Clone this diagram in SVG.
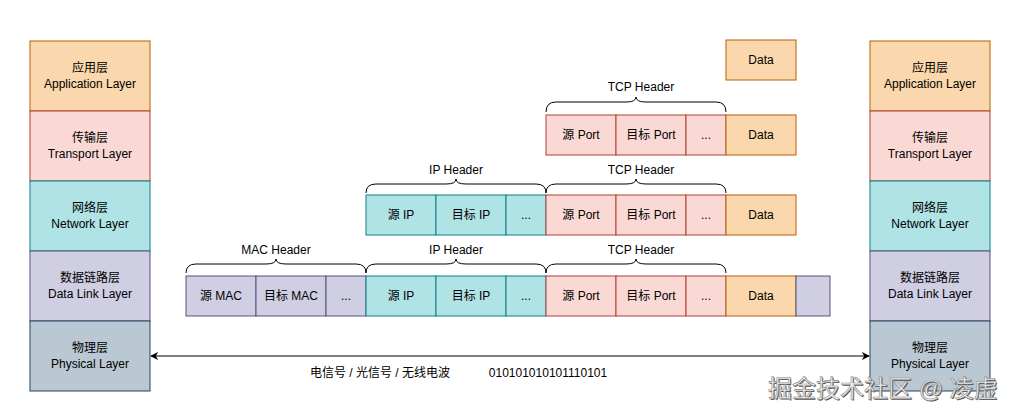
<svg xmlns="http://www.w3.org/2000/svg" width="1020" height="420" viewBox="0 0 1020 420">
<defs>
<style>
text{font-family:"Liberation Sans","Noto Sans CJK SC",sans-serif;font-size:12px;fill:#000;text-anchor:middle;dominant-baseline:central}
.app{fill:#fad7ac;stroke:#b46504}
.tr{fill:#fad9d5;stroke:#ae4132}
.net{fill:#b0e3e6;stroke:#0e8088}
.dl{fill:#d0cee2;stroke:#56517e}
.ph{fill:#bac8d3;stroke:#23445d}
rect{stroke-width:1}
.brace{fill:none;stroke:#000;stroke-width:1}
.wm{font-size:24px;text-anchor:start}
</style>
<marker id="ah" viewBox="0 0 10 10" refX="9" refY="5" markerWidth="8" markerHeight="8" orient="auto-start-reverse" markerUnits="userSpaceOnUse">
<path d="M0,0 L10,5 L0,10 L3,5 Z" fill="#000"/>
</marker>
</defs>
<rect width="1020" height="420" fill="#fff"/>

<g id="left-stack">
<g id="l-app"><rect class="app" x="30" y="41" width="120" height="70"/><text x="90" y="68">应用层</text><text x="90" y="84">Application Layer</text></g>
<g id="l-tr"><rect class="tr" x="30" y="111" width="120" height="70"/><text x="90" y="138">传输层</text><text x="90" y="154">Transport Layer</text></g>
<g id="l-net"><rect class="net" x="30" y="181" width="120" height="70"/><text x="90" y="208">网络层</text><text x="90" y="224">Network Layer</text></g>
<g id="l-dl"><rect class="dl" x="30" y="251" width="120" height="70"/><text x="90" y="278">数据链路层</text><text x="90" y="294">Data Link Layer</text></g>
<g id="l-ph"><rect class="ph" x="30" y="321" width="120" height="70"/><text x="90" y="348">物理层</text><text x="90" y="364">Physical Layer</text></g>
</g>

<g id="right-stack">
<g id="r-app"><rect class="app" x="870" y="41" width="120" height="70"/><text x="930" y="68">应用层</text><text x="930" y="84">Application Layer</text></g>
<g id="r-tr"><rect class="tr" x="870" y="111" width="120" height="70"/><text x="930" y="138">传输层</text><text x="930" y="154">Transport Layer</text></g>
<g id="r-net"><rect class="net" x="870" y="181" width="120" height="70"/><text x="930" y="208">网络层</text><text x="930" y="224">Network Layer</text></g>
<g id="r-dl"><rect class="dl" x="870" y="251" width="120" height="70"/><text x="930" y="278">数据链路层</text><text x="930" y="294">Data Link Layer</text></g>
<g id="r-ph"><rect class="ph" x="870" y="321" width="120" height="70"/><text x="930" y="348">物理层</text><text x="930" y="364">Physical Layer</text></g>
</g>

<g id="data-top"><rect class="app" x="726" y="40" width="70" height="40"/><text x="761" y="60">Data</text></g>

<g id="row-transport">
<text x="641" y="87">TCP Header</text>
<path class="brace" d="M546,112 Q546,102 556,102 L626,102 Q636,102 636,97 Q636,102 646,102 L716,102 Q726,102 726,112"/>
<g id="t-srcport"><rect class="tr" x="546" y="115" width="70" height="40"/><text x="581" y="135">源 Port</text></g>
<g id="t-dstport"><rect class="tr" x="616" y="115" width="70" height="40"/><text x="651" y="135">目标 Port</text></g>
<g id="t-more"><rect class="tr" x="686" y="115" width="40" height="40"/><text x="706" y="135">...</text></g>
<g id="t-data"><rect class="app" x="726" y="115" width="70" height="40"/><text x="761" y="135">Data</text></g>
</g>

<g id="row-network">
<text x="456" y="170">IP Header</text>
<text x="641" y="170">TCP Header</text>
<path class="brace" d="M366,193 Q366,184 376,184 L446,184 Q456,184 456,179 Q456,184 466,184 L536,184 Q546,184 546,193"/>
<path class="brace" d="M546,193 Q546,184 556,184 L626,184 Q636,184 636,179 Q636,184 646,184 L716,184 Q726,184 726,193"/>
<g id="n-srcip"><rect class="net" x="366" y="195" width="70" height="40"/><text x="401" y="215">源 IP</text></g>
<g id="n-dstip"><rect class="net" x="436" y="195" width="70" height="40"/><text x="471" y="215">目标 IP</text></g>
<g id="n-more"><rect class="net" x="506" y="195" width="40" height="40"/><text x="526" y="215">...</text></g>
<g id="n-srcport"><rect class="tr" x="546" y="195" width="70" height="40"/><text x="581" y="215">源 Port</text></g>
<g id="n-dstport"><rect class="tr" x="616" y="195" width="70" height="40"/><text x="651" y="215">目标 Port</text></g>
<g id="n-pmore"><rect class="tr" x="686" y="195" width="40" height="40"/><text x="706" y="215">...</text></g>
<g id="n-data"><rect class="app" x="726" y="195" width="70" height="40"/><text x="761" y="215">Data</text></g>
</g>

<g id="row-datalink">
<text x="276" y="250">MAC Header</text>
<text x="456" y="250">IP Header</text>
<text x="641" y="250">TCP Header</text>
<path class="brace" d="M186,273 Q186,264 196,264 L266,264 Q276,264 276,259 Q276,264 286,264 L356,264 Q366,264 366,273"/>
<path class="brace" d="M366,273 Q366,264 376,264 L446,264 Q456,264 456,259 Q456,264 466,264 L536,264 Q546,264 546,273"/>
<path class="brace" d="M546,273 Q546,264 556,264 L626,264 Q636,264 636,259 Q636,264 646,264 L716,264 Q726,264 726,273"/>
<g id="d-srcmac"><rect class="dl" x="186" y="276" width="70" height="40"/><text x="221" y="296">源 MAC</text></g>
<g id="d-dstmac"><rect class="dl" x="256" y="276" width="70" height="40"/><text x="291" y="296">目标 MAC</text></g>
<g id="d-more"><rect class="dl" x="326" y="276" width="40" height="40"/><text x="346" y="296">...</text></g>
<g id="d-srcip"><rect class="net" x="366" y="276" width="70" height="40"/><text x="401" y="296">源 IP</text></g>
<g id="d-dstip"><rect class="net" x="436" y="276" width="70" height="40"/><text x="471" y="296">目标 IP</text></g>
<g id="d-imore"><rect class="net" x="506" y="276" width="40" height="40"/><text x="526" y="296">...</text></g>
<g id="d-srcport"><rect class="tr" x="546" y="276" width="70" height="40"/><text x="581" y="296">源 Port</text></g>
<g id="d-dstport"><rect class="tr" x="616" y="276" width="70" height="40"/><text x="651" y="296">目标 Port</text></g>
<g id="d-pmore"><rect class="tr" x="686" y="276" width="40" height="40"/><text x="706" y="296">...</text></g>
<g id="d-data"><rect class="app" x="726" y="276" width="70" height="40"/><text x="761" y="296">Data</text></g>
<g id="d-trailer"><rect class="dl" x="796" y="276" width="34" height="40"/></g>
</g>

<g id="connectors">
<line x1="151" y1="356" x2="869" y2="356" stroke="#000" stroke-width="1" marker-start="url(#ah)" marker-end="url(#ah)"/>
<text x="380" y="373">电信号 / 光信号 / 无线电波</text>
<text x="548" y="373">010101010101110101</text>
</g>

<g id="watermark">
<text class="wm" x="769" y="389" style="fill:#555">掘金技术社区 @ 凌虚</text>
<text class="wm" x="768" y="388" style="fill:#f4f4f4;stroke:#888;stroke-width:0.6">掘金技术社区 @ 凌虚</text>
</g>
</svg>
